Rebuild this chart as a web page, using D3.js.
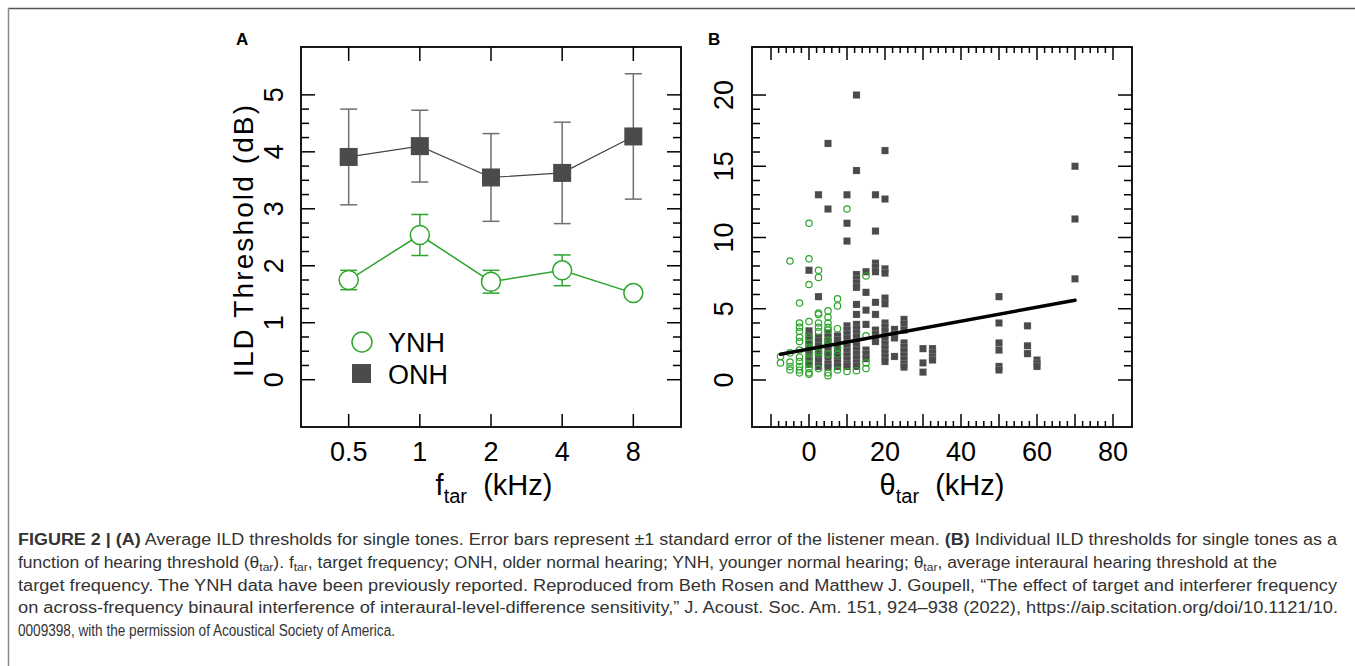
<!DOCTYPE html>
<html>
<head>
<meta charset="utf-8">
<script src="https://cdn.jsdelivr.net/npm/d3@7"></script>
<style>
  body { margin: 0; background: #fff; }
  svg { display: block; }
</style>
</head>
<body>
<div id="fig"></div>
<script>
var width = 1355,
    height = 666;

// ---- panel A : group means ----
var freqLabels = ["0.5", "1", "2", "4", "8"];
var ynhMean = [1.75, 2.54, 1.72, 1.92, 1.52];
var ynhErr  = [0.17, 0.36, 0.20, 0.27, 0.08];
var onhMean = [3.91, 4.10, 3.55, 3.63, 4.27];
var onhErr  = [0.84, 0.63, 0.77, 0.89, 1.10];
var ildTicksA = [0, 1, 2, 3, 4, 5];

// ---- panel B : individual thresholds ----
var ynhTheta = [-7.5, -5, -2.5, 0, 2.5, 5, 7.5, 10, 12.5, 15];
var ynhIld = [
  [1.65, 1.2],
  [8.35, 1.9, 1.25, 0.95, 0.7],
  [5.4, 4.0, 3.7, 3.4, 3.0, 2.7, 2.1, 1.6, 1.3, 0.95, 0.7, 0.5],
  [11.0, 8.5, 6.7, 4.1, 3.0, 2.6, 2.3, 1.9, 1.5, 1.1, 0.8, 0.5, 0.4],
  [7.7, 7.2, 4.7, 4.6, 4.0, 3.7, 3.4, 2.0, 1.9, 0.8],
  [4.85, 4.4, 4.0, 3.7, 3.5, 2.8, 2.6, 1.8, 0.5, 0.3],
  [5.7, 5.2, 3.6, 2.3, 1.8, 0.7],
  [12.0, 0.6],
  [0.65],
  [7.3, 3.1, 1.2, 0.8]
];
var onhTheta = [0, 2.5, 5, 7.5, 10, 12.5, 15, 17.5, 20, 22.5, 25, 30, 32.5, 50, 57.5, 60, 70];
var onhIld = [
  [7.7, 3.45, 3.1, 2.8, 2.5, 2.2, 1.9, 1.6, 1.35, 1.1],
  [13.0, 5.85, 3.0, 2.7, 2.4, 2.0, 1.7, 1.3, 0.95],
  [16.6, 12.0, 3.3, 3.0, 2.7, 2.4, 2.1, 1.8, 1.4, 1.1, 0.9],
  [3.1, 2.8, 2.4, 2.0, 1.6, 1.2, 0.95],
  [13.0, 11.0, 9.75, 3.8, 3.5, 3.2, 2.9, 2.6, 2.3, 2.0, 1.7, 1.4, 1.1, 0.95],
  [20.0, 14.7, 7.4, 7.1, 6.8, 6.5, 5.3, 4.6, 3.9, 3.6, 3.3, 3.0, 2.7, 2.4, 2.1, 1.8, 1.5, 1.2, 0.95],
  [7.6, 6.15, 4.9, 3.9, 2.1, 1.8, 1.5],
  [13.0, 10.45, 8.2, 7.9, 7.6, 5.45, 4.6, 3.5, 3.2, 2.9, 2.7],
  [16.1, 12.7, 7.8, 7.5, 5.75, 5.35, 4.0, 3.7, 3.4, 3.1, 2.8, 2.5, 2.2, 1.9, 1.6, 1.3],
  [3.55, 3.2, 2.95, 1.65],
  [4.25, 3.9, 3.5, 2.6, 2.3, 2.0, 1.7, 1.4, 1.1, 0.9],
  [2.2, 1.2, 0.55],
  [2.2, 1.9, 1.6, 1.4],
  [5.85, 4.0, 2.6, 2.1, 0.95, 0.7],
  [3.8, 2.4, 1.85],
  [1.4, 1.15, 0.95],
  [15.0, 11.3, 7.1]
];
var fitTheta = [-7.5, 70];
var fitIld = [1.8, 5.6];
var thetaTicks = [0, 20, 40, 60, 80];
var ildTicksB = [0, 5, 10, 15, 20];

// ---- caption ----
var captionLines = [
  [["FIGURE 2 | (A)", "b"], [" Average ILD thresholds for single tones. Error bars represent \u00b11 standard error of the listener mean. ", ""], ["(B)", "b"], [" Individual ILD thresholds for single tones as a", ""]],
  [["function of hearing threshold (\u03b8", ""], ["tar", "sub"], ["). f", ""], ["tar", "sub"], [", target frequency; ONH, older normal hearing; YNH, younger normal hearing; \u03b8", ""], ["tar", "sub"], [", average interaural hearing threshold at the", ""]],
  [["target frequency. The YNH data have been previously reported. Reproduced from Beth Rosen and Matthew J. Goupell, \u201cThe effect of target and interferer frequency", ""]],
  [["on across-frequency binaural interference of interaural-level-difference sensitivity,\u201d J. Acoust. Soc. Am. 151, 924\u2013938 (2022), https://aip.scitation.org/doi/10.1121/10.", ""]],
  [["0009398, with the permission of Acoustical Society of America.", ""]]
];
var captionEnds = [1337, 1277, 1337, 1338, 395];

var green = "#2ea52e",
    dark = "#4b4b4b",
    axisFont = "'Liberation Sans', Arial, sans-serif";

var svg = d3.select("#fig")
  .append("svg")
  .attr("width", width)
  .attr("height", height);

// outer figure border
svg.append("line").attr("x1", 8).attr("x2", width).attr("y1", 8.5).attr("y2", 8.5)
  .attr("stroke", "#555").attr("stroke-width", 1.5);
svg.append("line").attr("x1", 8.5).attr("x2", 8.5).attr("y1", 8).attr("y2", height)
  .attr("stroke", "#888").attr("stroke-width", 1.5);

var frameA = {left: 301, top: 47, size: 380},
    frameB = {left: 752, top: 47, size: 380};

// ================= panel A =================
var gA = svg.append("g");

var xA = d3.scaleLinear().domain([-0.67, 4.67]).range([frameA.left, frameA.left + frameA.size]);
var yA = d3.scaleLinear().domain([-0.83, 5.84]).range([frameA.top + frameA.size, frameA.top]);

drawFrame(gA, frameA);

// y ticks (both sides, inward)
d3.range(0, 5.001, 0.25).forEach(function(v) {
  var major = Math.abs(v - Math.round(v)) < 1e-6;
  var len = major ? 14 : 8;
  var y = yA(v);
  gA.append("line").attr("x1", frameA.left).attr("x2", frameA.left + len)
    .attr("y1", y).attr("y2", y).attr("stroke", "#000").attr("stroke-width", 1.5);
  gA.append("line").attr("x1", frameA.left + frameA.size).attr("x2", frameA.left + frameA.size - len)
    .attr("y1", y).attr("y2", y).attr("stroke", "#000").attr("stroke-width", 1.5);
});
// x ticks top & bottom
freqLabels.forEach(function(d, i) {
  var x = xA(i);
  gA.append("line").attr("x1", x).attr("x2", x).attr("y1", frameA.top).attr("y2", frameA.top + 14)
    .attr("stroke", "#000").attr("stroke-width", 1.5);
  gA.append("line").attr("x1", x).attr("x2", x).attr("y1", frameA.top + frameA.size).attr("y2", frameA.top + frameA.size - 13)
    .attr("stroke", "#000").attr("stroke-width", 1.5);
});

gA.selectAll("text.xlab")
  .data(freqLabels)
  .enter()
  .append("text")
  .attr("class", "xlab")
  .attr("x", function(d, i) { return xA(i); })
  .attr("y", 461)
  .attr("text-anchor", "middle")
  .attr("font-family", axisFont)
  .attr("font-size", "27px")
  .text(function(d) { return d; });

gA.selectAll("text.ylab")
  .data(ildTicksA)
  .enter()
  .append("text")
  .attr("class", "ylab")
  .attr("transform", function(d) { return "translate(283," + yA(d) + ") rotate(-90)"; })
  .attr("text-anchor", "middle")
  .attr("font-family", axisFont)
  .attr("font-size", "27px")
  .text(function(d) { return d; });

gA.append("text")
  .attr("transform", "translate(253,241) rotate(-90)")
  .attr("text-anchor", "middle")
  .attr("font-family", axisFont)
  .attr("font-size", "28px")
  .attr("textLength", 272)
  .attr("lengthAdjust", "spacing")
  .text("ILD Threshold (dB)");

subTitle(gA, 494, 495, "f");

// error bars, lines, markers
var errA = gA.append("g");
drawErrors(errA, onhMean, onhErr, "#707070");
drawErrors(errA, ynhMean, ynhErr, green);

gA.append("path")
  .datum(onhMean)
  .attr("fill", "none")
  .attr("stroke", "#444")
  .attr("stroke-width", 1.2)
  .attr("d", d3.line().x(function(d, i) { return xA(i); }).y(function(d) { return yA(d); }));

gA.append("path")
  .datum(ynhMean)
  .attr("fill", "none")
  .attr("stroke", green)
  .attr("stroke-width", 1.5)
  .attr("d", d3.line().x(function(d, i) { return xA(i); }).y(function(d) { return yA(d); }));

gA.selectAll("rect.onh")
  .data(onhMean)
  .enter()
  .append("rect")
  .attr("class", "onh")
  .attr("x", function(d, i) { return xA(i) - 9; })
  .attr("y", function(d) { return yA(d) - 9; })
  .attr("width", 18)
  .attr("height", 18)
  .attr("fill", dark);

gA.selectAll("circle.ynh")
  .data(ynhMean)
  .enter()
  .append("circle")
  .attr("class", "ynh")
  .attr("cx", function(d, i) { return xA(i); })
  .attr("cy", function(d) { return yA(d); })
  .attr("r", 9.5)
  .attr("fill", "#fff")
  .attr("stroke", green)
  .attr("stroke-width", 1.5);

// legend
gA.append("circle").attr("cx", 362).attr("cy", 342).attr("r", 10)
  .attr("fill", "#fff").attr("stroke", green).attr("stroke-width", 1.5);
gA.append("text").attr("x", 388).attr("y", 352).attr("font-family", axisFont)
  .attr("font-size", "27px").text("YNH");
gA.append("rect").attr("x", 352).attr("y", 364).attr("width", 19).attr("height", 19).attr("fill", dark);
gA.append("text").attr("x", 388).attr("y", 384).attr("font-family", axisFont)
  .attr("font-size", "27px").text("ONH");

gA.append("text").attr("x", 236).attr("y", 45).attr("font-family", axisFont)
  .attr("font-weight", "bold").attr("font-size", "17px").text("A");

// ================= panel B =================
var gB = svg.append("g");

var xB = d3.scaleLinear().domain([-15, 85]).range([frameB.left, frameB.left + frameB.size]);
var yB = d3.scaleLinear().domain([-3.3, 23.37]).range([frameB.top + frameB.size, frameB.top]);

drawFrame(gB, frameB);

d3.range(0, 21, 1).forEach(function(v) {
  var len = v % 5 === 0 ? 14 : 8;
  var y = yB(v);
  gB.append("line").attr("x1", frameB.left).attr("x2", frameB.left + len)
    .attr("y1", y).attr("y2", y).attr("stroke", "#000").attr("stroke-width", 1.5);
  gB.append("line").attr("x1", frameB.left + frameB.size).attr("x2", frameB.left + frameB.size - len)
    .attr("y1", y).attr("y2", y).attr("stroke", "#000").attr("stroke-width", 1.5);
});
d3.range(-10, 81, 2).forEach(function(v) {
  var len = v % 10 === 0 ? 13 : 6;
  var x = xB(v);
  gB.append("line").attr("x1", x).attr("x2", x).attr("y1", frameB.top).attr("y2", frameB.top + len)
    .attr("stroke", "#000").attr("stroke-width", 1.5);
  gB.append("line").attr("x1", x).attr("x2", x).attr("y1", frameB.top + frameB.size).attr("y2", frameB.top + frameB.size - len)
    .attr("stroke", "#000").attr("stroke-width", 1.5);
});

gB.selectAll("text.xlab")
  .data(thetaTicks)
  .enter()
  .append("text")
  .attr("class", "xlab")
  .attr("x", function(d) { return xB(d); })
  .attr("y", 461)
  .attr("text-anchor", "middle")
  .attr("font-family", axisFont)
  .attr("font-size", "27px")
  .text(function(d) { return d; });

gB.selectAll("text.ylab")
  .data(ildTicksB)
  .enter()
  .append("text")
  .attr("class", "ylab")
  .attr("transform", function(d) { return "translate(733," + yB(d) + ") rotate(-90)"; })
  .attr("text-anchor", "middle")
  .attr("font-family", axisFont)
  .attr("font-size", "27px")
  .text(function(d) { return d; });

subTitle(gB, 942, 495, "\u03b8");

// flatten groups into points
var onhPts = [];
onhTheta.forEach(function(t, i) {
  onhIld[i].forEach(function(v) { onhPts.push({theta: t, ild: v}); });
});
var ynhPts = [];
ynhTheta.forEach(function(t, i) {
  ynhIld[i].forEach(function(v) { ynhPts.push({theta: t, ild: v}); });
});

gB.selectAll("rect.onh")
  .data(onhPts)
  .enter()
  .append("rect")
  .attr("class", "onh")
  .attr("x", function(d) { return xB(d.theta) - 3.6; })
  .attr("y", function(d) { return yB(d.ild) - 3.6; })
  .attr("width", 7.2)
  .attr("height", 7.2)
  .attr("fill", dark)
  .attr("stroke", "rgba(255,255,255,0.3)")
  .attr("stroke-width", 0.5);

gB.selectAll("circle.ynh")
  .data(ynhPts)
  .enter()
  .append("circle")
  .attr("class", "ynh")
  .attr("cx", function(d) { return xB(d.theta); })
  .attr("cy", function(d) { return yB(d.ild); })
  .attr("r", 3.2)
  .attr("fill", "none")
  .attr("stroke", green)
  .attr("stroke-width", 1.2);

gB.append("line")
  .attr("x1", xB(fitTheta[0])).attr("y1", yB(fitIld[0]))
  .attr("x2", xB(fitTheta[1])).attr("y2", yB(fitIld[1]))
  .attr("stroke", "#000")
  .attr("stroke-width", 3.5)
  .attr("stroke-linecap", "round");

gB.append("text").attr("x", 708).attr("y", 45).attr("font-family", axisFont)
  .attr("font-weight", "bold").attr("font-size", "17px").text("B");

// ================= caption =================
var cap = svg.append("g")
  .attr("font-family", "'Liberation Sans', Arial, sans-serif")
  .attr("font-size", "16px")
  .attr("fill", "#333");

captionLines.forEach(function(line, i) {
  var t = cap.append("text")
    .attr("x", 18)
    .attr("y", 545 + i * 22.8)
    .attr("textLength", captionEnds[i] - 18)
    .attr("lengthAdjust", "spacingAndGlyphs");
  var shifted = false;
  line.forEach(function(seg) {
    var s = t.append("tspan").text(seg[0]);
    if (seg[1] === "b") { s.attr("font-weight", "bold"); }
    if (seg[1] === "sub") {
      s.attr("font-size", "11px").attr("dy", 3);
      shifted = true;
    } else if (shifted) {
      s.attr("dy", -3);
      shifted = false;
    }
  });
});

// ---- helpers ----
function drawFrame(g, f) {
  g.append("rect")
    .attr("x", f.left)
    .attr("y", f.top)
    .attr("width", f.size)
    .attr("height", f.size)
    .attr("fill", "none")
    .attr("stroke", "#000")
    .attr("stroke-width", 1.8);
}

function drawErrors(g, means, errs, color) {
  means.forEach(function(m, i) {
    var x = xA(i), y1 = yA(m + errs[i]), y2 = yA(m - errs[i]);
    g.append("line").attr("x1", x).attr("x2", x).attr("y1", y1).attr("y2", y2)
      .attr("stroke", color).attr("stroke-width", 1.5);
    [y1, y2].forEach(function(y) {
      g.append("line").attr("x1", x - 8.5).attr("x2", x + 8.5).attr("y1", y).attr("y2", y)
        .attr("stroke", color).attr("stroke-width", 1.5);
    });
  });
}

function subTitle(g, cx, y, sym) {
  var t = g.append("text")
    .attr("x", cx)
    .attr("y", y)
    .attr("text-anchor", "middle")
    .attr("font-family", axisFont)
    .attr("font-size", "29px");
  t.append("tspan").text(sym);
  t.append("tspan").attr("font-size", "20px").attr("dy", 8).text("tar");
  t.append("tspan").attr("dy", -8).text("\u00a0\u00a0(kHz)");
}
</script>
</body>
</html>
